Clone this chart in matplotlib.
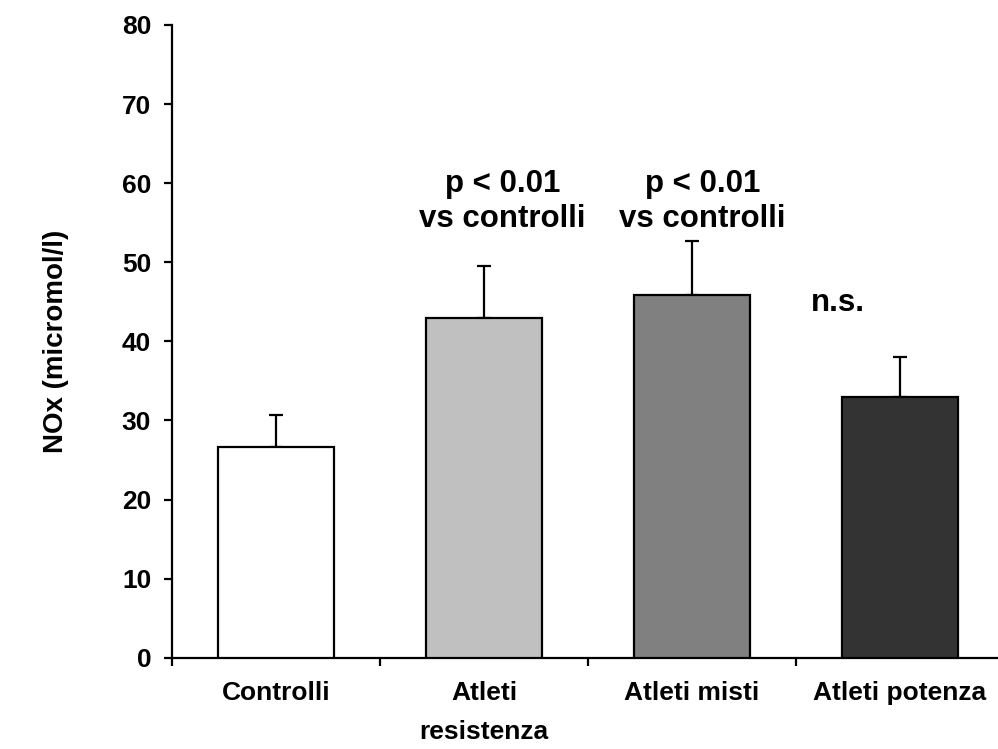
import matplotlib
matplotlib.use("Agg")
import matplotlib.pyplot as plt
from matplotlib.ticker import FixedLocator

categories = ["Controlli", "Atleti\nresistenza", "Atleti misti", "Atleti potenza"]
means = [26.7, 43.0, 45.8, 33.0]
errors = [4.0, 6.5, 6.9, 5.0]
colors = ["#ffffff", "#c0c0c0", "#808080", "#333333"]
annotations = ["", "p < 0.01\nvs controlli", "p < 0.01\nvs controlli", "n.s."]
annot_x = [0.0, 1.09, 2.05, 2.70]
annot_y = [0, 57.7, 57.7, 44.9]
yticks = [0, 10, 20, 30, 40, 50, 60, 70, 80]

plt.rcParams['font.family'] = ['Liberation Sans', 'DejaVu Sans']
plt.rcParams['font.weight'] = 'bold'

fig = plt.figure(figsize=(9.98, 7.49), dpi=100)
W, H = 998, 749
left_px, right_px, top_px, bot_px = 172, 1004, 25, 657.7
ax = fig.add_axes([left_px / W, (H - bot_px) / H, (right_px - left_px) / W, (bot_px - top_px) / H])

x = list(range(len(categories)))
ax.bar(x, means, width=0.558, color=colors, edgecolor="black", linewidth=1.6, zorder=3)
ax.errorbar(x, means, yerr=[[0] * len(errors), errors], fmt="none", ecolor="black",
            elinewidth=1.6, capsize=5, capthick=1.6, zorder=2)

ax.set_xlim(-0.5, 3.5)
ax.set_ylim(0, 80)
ax.spines['top'].set_visible(False)
ax.spines['right'].set_visible(False)
for s in ['left', 'bottom']:
    ax.spines[s].set_linewidth(1.6)

ax.set_yticks(yticks)
ax.set_yticklabels([str(t) for t in yticks], fontsize=19, fontweight='bold')
ax.tick_params(axis='y', length=6, width=1.6, pad=9)

ax.set_xticks(x)
ax.set_xticklabels(categories, fontsize=19, fontweight='bold', linespacing=1.75)
ax.tick_params(axis='x', which='major', length=0, pad=17)
ax.xaxis.set_minor_locator(FixedLocator([-0.5, 0.5, 1.5, 2.5, 3.5]))
ax.tick_params(axis='x', which='minor', length=6, width=1.6)

ax.set_ylabel("NOx (micromol/l)", fontsize=20, fontweight='bold', labelpad=38)

for ax_x, ay, t in zip(annot_x, annot_y, annotations):
    if t:
        ax.text(ax_x, ay, t, ha='center', va='center', fontsize=22.5,
                fontweight='bold', linespacing=1.2)

fig.savefig("out.png", dpi=100)
